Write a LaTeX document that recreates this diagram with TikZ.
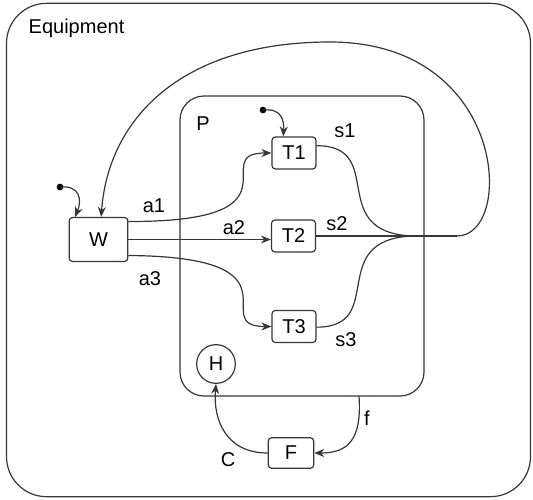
\documentclass[tikz,border=0pt]{standalone}
\usepackage{fontspec}
\setmainfont{Liberation Sans}
\usetikzlibrary{arrows.meta}
\definecolor{ln}{HTML}{3A3435}
\begin{document}
\begin{tikzpicture}[x=0.75pt,y=-0.75pt,
  every node/.style={font=\fontsize{15}{17}\selectfont, text=black},
  st/.style={draw=ln, line width=0.9pt, rounded corners=2.5pt, inner sep=0pt, minimum width=33pt, minimum height=24pt},
  wire/.style={draw=ln, line width=0.9pt},
  arr/.style={wire, -{Stealth[length=7.5pt,width=6pt]}},
  dot/.style={circle, fill=black, inner sep=0pt, minimum size=5pt}]
\useasboundingbox (0,0) rectangle (533,500);
% containers
\node[draw=ln, line width=0.9pt, rounded corners=30pt, minimum width=393pt, minimum height=370pt, inner sep=0pt] (eq) at (268.5,250) {};
\node[anchor=west] (eqlabel) at (24,28) {Equipment};
\node[draw=ln, line width=0.9pt, rounded corners=18pt, minimum width=183pt, minimum height=225pt, inner sep=0pt] (P) at (302,246) {};
\node (plabel) at (203,124) {P};
% states
\node[st, minimum width=44pt, minimum height=33pt] (W) at (98.5,239.5) {W};
\node[st] (T1) at (294,153) {T1};
\node[st] (T2) at (293.5,236) {T2};
\node[st] (T3) at (294,326.5) {T3};
\node[st, minimum width=34pt, minimum height=23pt] (F) at (291,453) {F};
\node[draw=ln, line width=0.9pt, circle, minimum size=29pt, inner sep=0pt] (H) at (216,364) {H};
% coordinates
\coordinate (M) at (412,236);
\coordinate (R) at (457,236);
\coordinate (Top) at (330,42);
\coordinate (Pb) at (359,396);
\node[dot] (iw) at (60,187) {};
\node[dot] (it) at (263,110) {};
% initial arrows
\draw[arr] (iw.center) .. controls (80,185) and (82,200) .. ([xshift=-17.5pt]W.north);
\draw[arr] (it.center) .. controls (283,108) and (284,122) .. ([xshift=-8pt]T1.north);
% W to T
\draw[arr] ([yshift=13.5pt]W.east) .. controls (310,222) and (205,153) .. (T1.west);
\draw[arr] (W.east) -- (W.east -| T2.west);
\draw[arr] ([yshift=-12pt]W.east) .. controls (310,257) and (205,326.5) .. (T3.west);
% T to merge
\draw[wire] ([yshift=5.5pt]T1.east) .. controls (388,146) and (325,232) .. (M);
\draw[wire] (T2.east) -- (M);
\draw[wire] ([yshift=-0.5pt]T3.east) .. controls (388,327) and (325,240) .. (M);
\draw[wire] (M) -- (R);
\draw[arr] (R) .. controls (515,236) and (508,42) .. (Top) .. controls (180,42) and (108,120) .. ([xshift=2pt]W.north);
% F and H
\draw[arr] (Pb) .. controls (362,440) and (348,453) .. (F.east);
\draw[arr] (F.west) .. controls (226,453) and (213,420) .. (H.south);
% labels
\node (la1) at (154,206) {a1};
\node (la2) at (234,228) {a2};
\node (la3) at (150,279) {a3};
\node (ls1) at (345,131) {s1};
\node (ls2) at (337,224) {s2};
\node (ls3) at (346,340) {s3};
\node (lf) at (367,418) {f};
\node (lc) at (228,460) {C};
\end{tikzpicture}
\end{document}
